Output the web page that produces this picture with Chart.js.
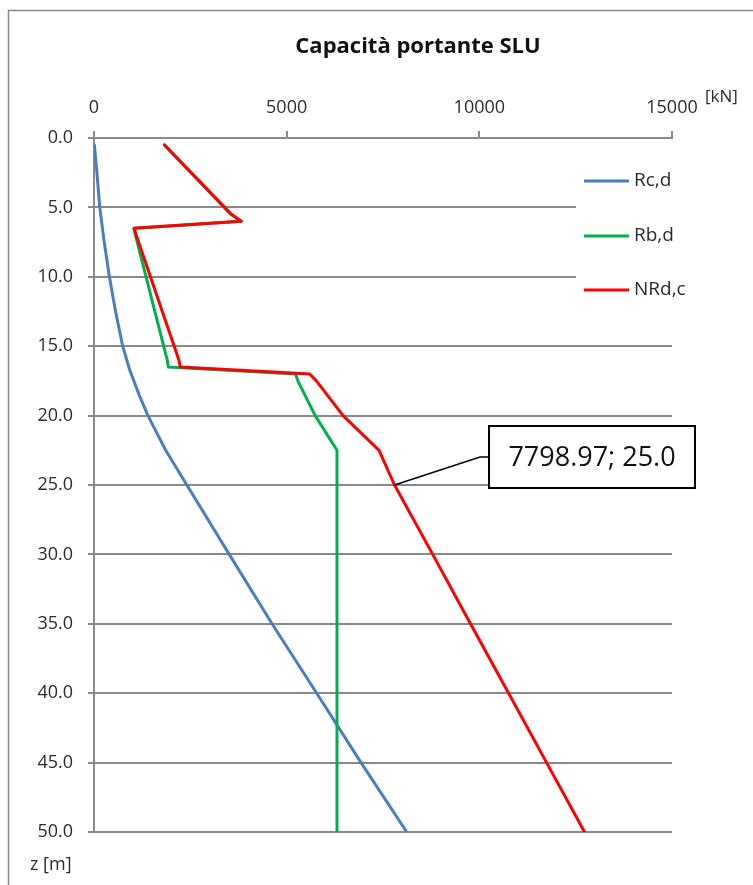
<!DOCTYPE html>
<html>
<head>
<meta charset="utf-8">
<script src="https://cdn.jsdelivr.net/npm/chart.js@4.4.0/dist/chart.umd.min.js"></script>
<style>
  html, body { margin: 0; padding: 0; background: #ffffff; }
  #wrap { width: 753px; height: 885px; position: relative; }
</style>
</head>
<body>
<div id="wrap"><canvas id="c" width="753" height="885"></canvas></div>
<script>
// Bearing capacity (ULS) of a pile versus depth
const chartTitle = 'Capacità portante SLU';
const forceUnit = '[kN]';
const depthUnit = 'z [m]';
const forceTicks = [0, 5000, 10000, 15000];
const depthTicks = [0, 5, 10, 15, 20, 25, 30, 35, 40, 45, 50];
const seriesNames = ['Rc,d', 'Rb,d', 'NRd,c'];

// Rc,d : shaft resistance
const depthRc = [0.5, 2.5, 5.0, 7.5, 10.0, 12.5, 15.0, 16.7, 18.5, 20.0, 22.5, 25.0, 30.0, 35.0, 40.0, 45.0, 50.0];
const rcValues = [10, 75, 150, 265, 400, 560, 745, 925, 1170, 1400, 1860, 2410, 3510, 4620, 5780, 6930, 8116];

// Rb,d : base resistance
const depthRb = [0.5, 5.5, 6.0, 6.5, 7.0, 16.0, 16.5, 17.0, 17.5, 20.0, 22.5, 50.0];
const rbValues = [1825, 3555, 3810, 1034, 1075, 1901, 1927, 5234, 5290, 5740, 6306, 6306];

// NRd,c : design bearing capacity
const depthNrd = [0.5, 5.5, 6.0, 6.5, 7.0, 16.0, 16.5, 17.0, 17.5, 20.0, 22.5, 25.0, 30.0, 35.0, 40.0, 45.0, 50.0];
const nrdValues = [1831, 3564, 3823, 1040, 1096, 2203, 2239, 5597, 5771, 6462, 7397, 7798.97, 8790, 9770, 10760, 11745, 12730];

// depth of the labelled NRd,c point
const labelDepth = 25.0;

const seriesColors = ['#4A7EBB', '#00B050', '#FF0000'];
const FONT = "'Open Sans', 'Noto Sans', sans-serif";
const GRID = '#898989';
const TEXT = '#2b2b2b';

function toPoints(depths, values) {
  return depths.map((z, i) => ({ x: values[i], y: z }));
}

const datasets = [
  { label: seriesNames[0], data: toPoints(depthRc, rcValues), borderColor: seriesColors[0], order: 3 },
  { label: seriesNames[1], data: toPoints(depthRb, rbValues), borderColor: seriesColors[1], order: 2 },
  { label: seriesNames[2], data: toPoints(depthNrd, nrdValues), borderColor: seriesColors[2], order: 1 }
].map(d => Object.assign(d, {
  showLine: true, pointRadius: 0, pointHoverRadius: 0, borderWidth: 3,
  tension: 0, fill: false, borderJoinStyle: 'round', borderCapStyle: 'round'
}));

const decorations = {
  id: 'decorations',
  beforeDraw(chart) {
    const ctx = chart.ctx;
    ctx.save();
    ctx.fillStyle = '#ffffff';
    ctx.fillRect(0, 0, chart.width, chart.height);
    ctx.restore();
  },
  afterDraw(chart) {
    const ctx = chart.ctx;
    const xs = chart.scales.x, ys = chart.scales.y;
    ctx.save();

    // outer frame
    ctx.strokeStyle = '#8a8a8a';
    ctx.lineWidth = 1.5;
    ctx.strokeRect(8.5, 10.5, 900, 1000);

    // title
    ctx.fillStyle = '#111111';
    ctx.font = "bold 22px " + FONT;
    ctx.textAlign = 'center';
    ctx.textBaseline = 'middle';
    ctx.fillText(chartTitle, 418, 47);

    // axis units
    ctx.fillStyle = TEXT;
    ctx.font = "17px " + FONT;
    ctx.textAlign = 'left';
    ctx.fillText(forceUnit, 705, 97);
    ctx.font = "18px " + FONT;
    ctx.fillText(depthUnit, 30, 865);

    // legend panel
    ctx.fillStyle = '#ffffff';
    ctx.fillRect(576, 150, 177, 170);
    const legendY = [181, 236, 290];
    chart.data.datasets.forEach((ds, i) => {
      ctx.strokeStyle = ds.borderColor;
      ctx.lineWidth = 3;
      ctx.beginPath();
      ctx.moveTo(584, legendY[i]);
      ctx.lineTo(629, legendY[i]);
      ctx.stroke();
      ctx.fillStyle = TEXT;
      ctx.font = "19px " + FONT;
      ctx.textAlign = 'left';
      ctx.textBaseline = 'middle';
      ctx.fillText(ds.label, 634, legendY[i]);
    });

    // data label for NRd,c at the chosen depth
    const idx = depthNrd.indexOf(labelDepth);
    const v = nrdValues[idx];
    const px = xs.getPixelForValue(v);
    const py = ys.getPixelForValue(labelDepth);
    const box = { l: 489, t: 426, r: 695, b: 488 };
    const cy = (box.t + box.b) / 2;
    ctx.strokeStyle = '#000000';
    ctx.lineWidth = 1.5;
    ctx.beginPath();
    ctx.moveTo(px, py);
    ctx.lineTo(480, cy);
    ctx.lineTo(box.l, cy);
    ctx.stroke();
    ctx.fillStyle = '#ffffff';
    ctx.fillRect(box.l, box.t, box.r - box.l, box.b - box.t);
    ctx.lineWidth = 2;
    ctx.strokeRect(box.l, box.t, box.r - box.l, box.b - box.t);
    ctx.fillStyle = '#111111';
    ctx.font = "27px " + FONT;
    ctx.textAlign = 'center';
    ctx.textBaseline = 'middle';
    ctx.fillText(v.toFixed(2) + '; ' + labelDepth.toFixed(1), (box.l + box.r) / 2, cy + 1);

    ctx.restore();
  }
};

new Chart(document.getElementById('c'), {
  type: 'scatter',
  data: { datasets },
  options: {
    responsive: false,
    animation: false,
    devicePixelRatio: 1,
    layout: { padding: { left: 0, top: 0, right: 81, bottom: 53 } },
    plugins: {
      legend: { display: false },
      title: { display: false },
      tooltip: { enabled: false }
    },
    scales: {
      x: {
        type: 'linear',
        position: 'top',
        min: 0,
        max: 15000,
        afterBuildTicks: s => { s.ticks = forceTicks.map(v => ({ value: v })); },
        afterFit: s => { s.height = 138; },
        ticks: {
          color: TEXT,
          font: { family: FONT, size: 18 },
          padding: 12,
          maxRotation: 0,
          callback: v => String(v)
        },
        grid: { drawOnChartArea: false, drawTicks: true, tickLength: 7, color: GRID, lineWidth: 2 },
        border: { display: true, color: GRID, width: 2 }
      },
      y: {
        type: 'linear',
        reverse: true,
        min: 0,
        max: 50,
        afterBuildTicks: s => { s.ticks = depthTicks.map(v => ({ value: v })); },
        afterFit: s => { s.width = 94; },
        ticks: {
          color: TEXT,
          font: { family: FONT, size: 18 },
          padding: 15,
          callback: v => Number(v).toFixed(1)
        },
        grid: { color: GRID, lineWidth: 2, drawTicks: true, tickLength: 6 },
        border: { display: true, color: GRID, width: 2 }
      }
    }
  },
  plugins: [decorations]
});
</script>
</body>
</html>
